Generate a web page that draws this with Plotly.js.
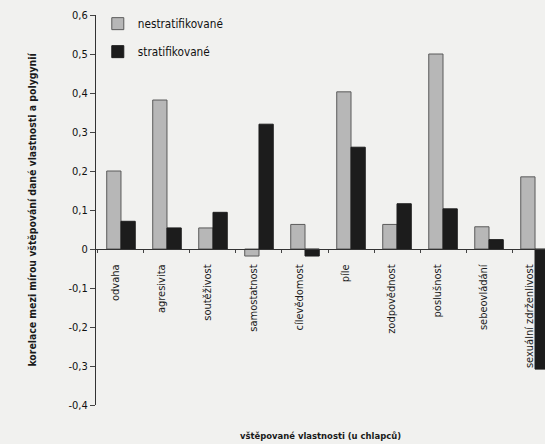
<!DOCTYPE html>
<html>
<head>
<meta charset="utf-8">
<script src="https://cdn.plot.ly/plotly-3.0.1.min.js"></script>
<style>
  html, body { margin: 0; padding: 0; background: #f1f1ef; }
  #chart { width: 545px; height: 444px; }
</style>
</head>
<body>
<div id="chart"></div>
<script>
const categories = ["odvaha", "agresivita", "soutěživost", "samostatnost", "cílevědomost",
  "píle", "zodpovědnost", "poslušnost", "sebeovládání", "sexuální zdrženlivost"];
const nestratifikovane = [0.20, 0.382, 0.054, -0.018, 0.063, 0.403, 0.063, 0.50, 0.057, 0.185];
const stratifikovane = [0.071, 0.054, 0.094, 0.32, -0.018, 0.261, 0.116, 0.103, 0.024, -0.308];
const yTickVals = [-0.4, -0.3, -0.2, -0.1, 0, 0.1, 0.2, 0.3, 0.4, 0.5, 0.6];
const yTickText = ["-0,4", "-0,3", "-0,2", "-0,1", "0", "0,1", "0,2", "0,3", "0,4", "0,5", "0,6"];
const seriesNames = ["nestratifikované", "stratifikované"];
const yTitle = "korelace mezi mírou vštěpování dané vlastnosti a polygynií";
const xTitle = "vštěpované vlastnosti (u chlapců)";

const FONT = "DejaVu Sans Condensed, Liberation Sans Narrow, sans-serif";
const NARROW = "Liberation Sans Narrow, DejaVu Sans Condensed, sans-serif";

const traces = [
  {
    type: "bar", name: seriesNames[0], x: categories, y: nestratifikovane,
    legendgroup: "a",
    marker: { color: "#b7b7b7", line: { color: "#5a5a5a", width: 1 } }
  },
  {
    type: "bar", name: seriesNames[1], x: categories, y: stratifikovane,
    legendgroup: "b",
    marker: { color: "#1c1c1c", line: { color: "#1c1c1c", width: 1 } }
  }
];

const layout = {
  width: 545, height: 444,
  margin: { l: 96, r: 0, t: 15, b: 39 },
  paper_bgcolor: "#f1f1ef",
  plot_bgcolor: "rgba(0,0,0,0)",
  barmode: "group",
  bargap: 0.38,
  bargroupgap: 0,
  font: { family: FONT, color: "#1a1a1a", size: 11 },
  showlegend: true,
  legend: {
    x: 0.004, y: 1.015, xanchor: "left", yanchor: "top",
    bgcolor: "rgba(0,0,0,0)",
    traceorder: "grouped", tracegroupgap: 9,
    font: { family: NARROW, size: 11.7, color: "#111" }
  },
  xaxis: {
    type: "category",
    range: [-0.543, 9.217],
    anchor: "free", position: 0.4,
    showline: true, linecolor: "#333", linewidth: 1,
    ticks: "outside", ticklen: 3, tickcolor: "#444", tickson: "boundaries",
    tickangle: -90,
    ticklabelshift: -6, ticklabelstandoff: 10,
    tickfont: { family: FONT, size: 11, color: "#1a1a1a" },
    showgrid: false, zeroline: false
  },
  yaxis: {
    range: [-0.4, 0.6],
    tickvals: yTickVals, ticktext: yTickText,
    showline: true, linecolor: "#333", linewidth: 1,
    ticks: "outside", ticklen: 5, tickcolor: "#444",
    tickfont: { family: FONT, size: 11, color: "#111" },
    showgrid: false, zeroline: false,
    title: { text: "<b>" + yTitle + "</b>", font: { family: NARROW, size: 10.4, color: "#1a1a1a" }, standoff: 29 }
  },
  annotations: [
    {
      text: "<b>" + xTitle + "</b>", xref: "paper", yref: "paper",
      x: 0.5, y: -0.077, xanchor: "center", yanchor: "middle",
      showarrow: false, font: { family: NARROW, size: 9.4, color: "#1a1a1a" }
    }
  ]
};

Plotly.newPlot("chart", traces, layout, { displayModeBar: false, staticPlot: true });
</script>
</body>
</html>
